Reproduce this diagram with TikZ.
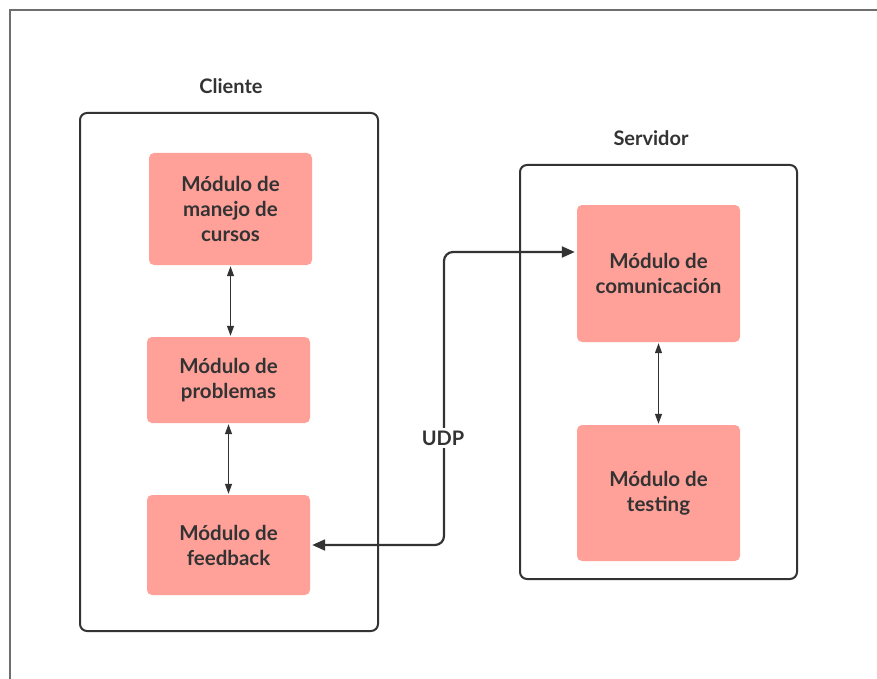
\documentclass[tikz,border=0pt]{standalone}
\usepackage{fontspec}
\setmainfont{Lato}
\usetikzlibrary{arrows.meta}
\definecolor{ink}{HTML}{333333}
\definecolor{modfill}{HTML}{FFA199}
\definecolor{frame}{HTML}{6E6E6E}
\begin{document}
\begin{tikzpicture}[x=1pt,y=-1pt,
  modbox/.style={fill=modfill, rounded corners=5pt, inner sep=0pt, align=center,
    font=\fontsize{20.5}{25}\selectfont\bfseries, text=ink},
  groupbox/.style={draw=ink, line width=2pt, rounded corners=7pt},
  grouplabel/.style={font=\fontsize{20}{24}\selectfont\bfseries, text=ink},
  link/.style={draw=ink, line width=1.2pt, {Triangle[length=10pt,width=7pt]}-{Triangle[length=10pt,width=7pt]}},
  netlink/.style={draw=ink, line width=2.2pt, rounded corners=9pt,
    {Triangle[length=13pt,width=11pt]}-{Triangle[length=13pt,width=11pt]}}]
  \useasboundingbox (0,0) rectangle (877,679);
  % page frame (top and left edges)
  \draw[frame, line width=1.5pt] (10,679) -- (10,10) -- (877,10);

  % client group
  \draw[groupbox] (80,113) rectangle (378,631);
  \node[grouplabel] (cliente) at (231,86) {Cliente};
  % server group
  \draw[groupbox] (520,165) rectangle (797,579);
  \node[grouplabel] (servidor) at (651,138) {Servidor};

  % modules
  \node[modbox, minimum width=163pt, minimum height=112pt] (cursos) at (230.5,209) {Módulo de\\manejo de\\cursos};
  \node[modbox, minimum width=163pt, minimum height=86pt] (problemas) at (228.5,380) {Módulo de\\problemas};
  \node[modbox, minimum width=163pt, minimum height=100pt] (feedback) at (228.5,545) {Módulo de\\feedback};
  \node[modbox, minimum width=163pt, minimum height=137pt] (comunic) at (658.5,273.5) {Módulo de\\comunicación};
  \node[modbox, minimum width=163pt, minimum height=136pt] (testing) at (658.5,493) {Módulo de\\testing};

  % internal links
  \draw[link] ([yshift=-1pt]cursos.south) -- ([yshift=1pt]problemas.north -| cursos.south);
  \draw[link] ([yshift=-1pt]problemas.south) -- ([yshift=1pt]feedback.north);
  \draw[link] ([yshift=-1pt]comunic.south) -- ([yshift=1pt]testing.north);

  % network link
  \coordinate (bend) at (444,252);
  \draw[netlink] ([xshift=2pt]feedback.east) -| (bend) -- ([xshift=-2pt]comunic.west |- bend);
  \node[fill=white, inner sep=3pt, font=\fontsize{20}{24}\selectfont\bfseries, text=ink] (udp) at (443,438) {UDP};
\end{tikzpicture}
\end{document}
